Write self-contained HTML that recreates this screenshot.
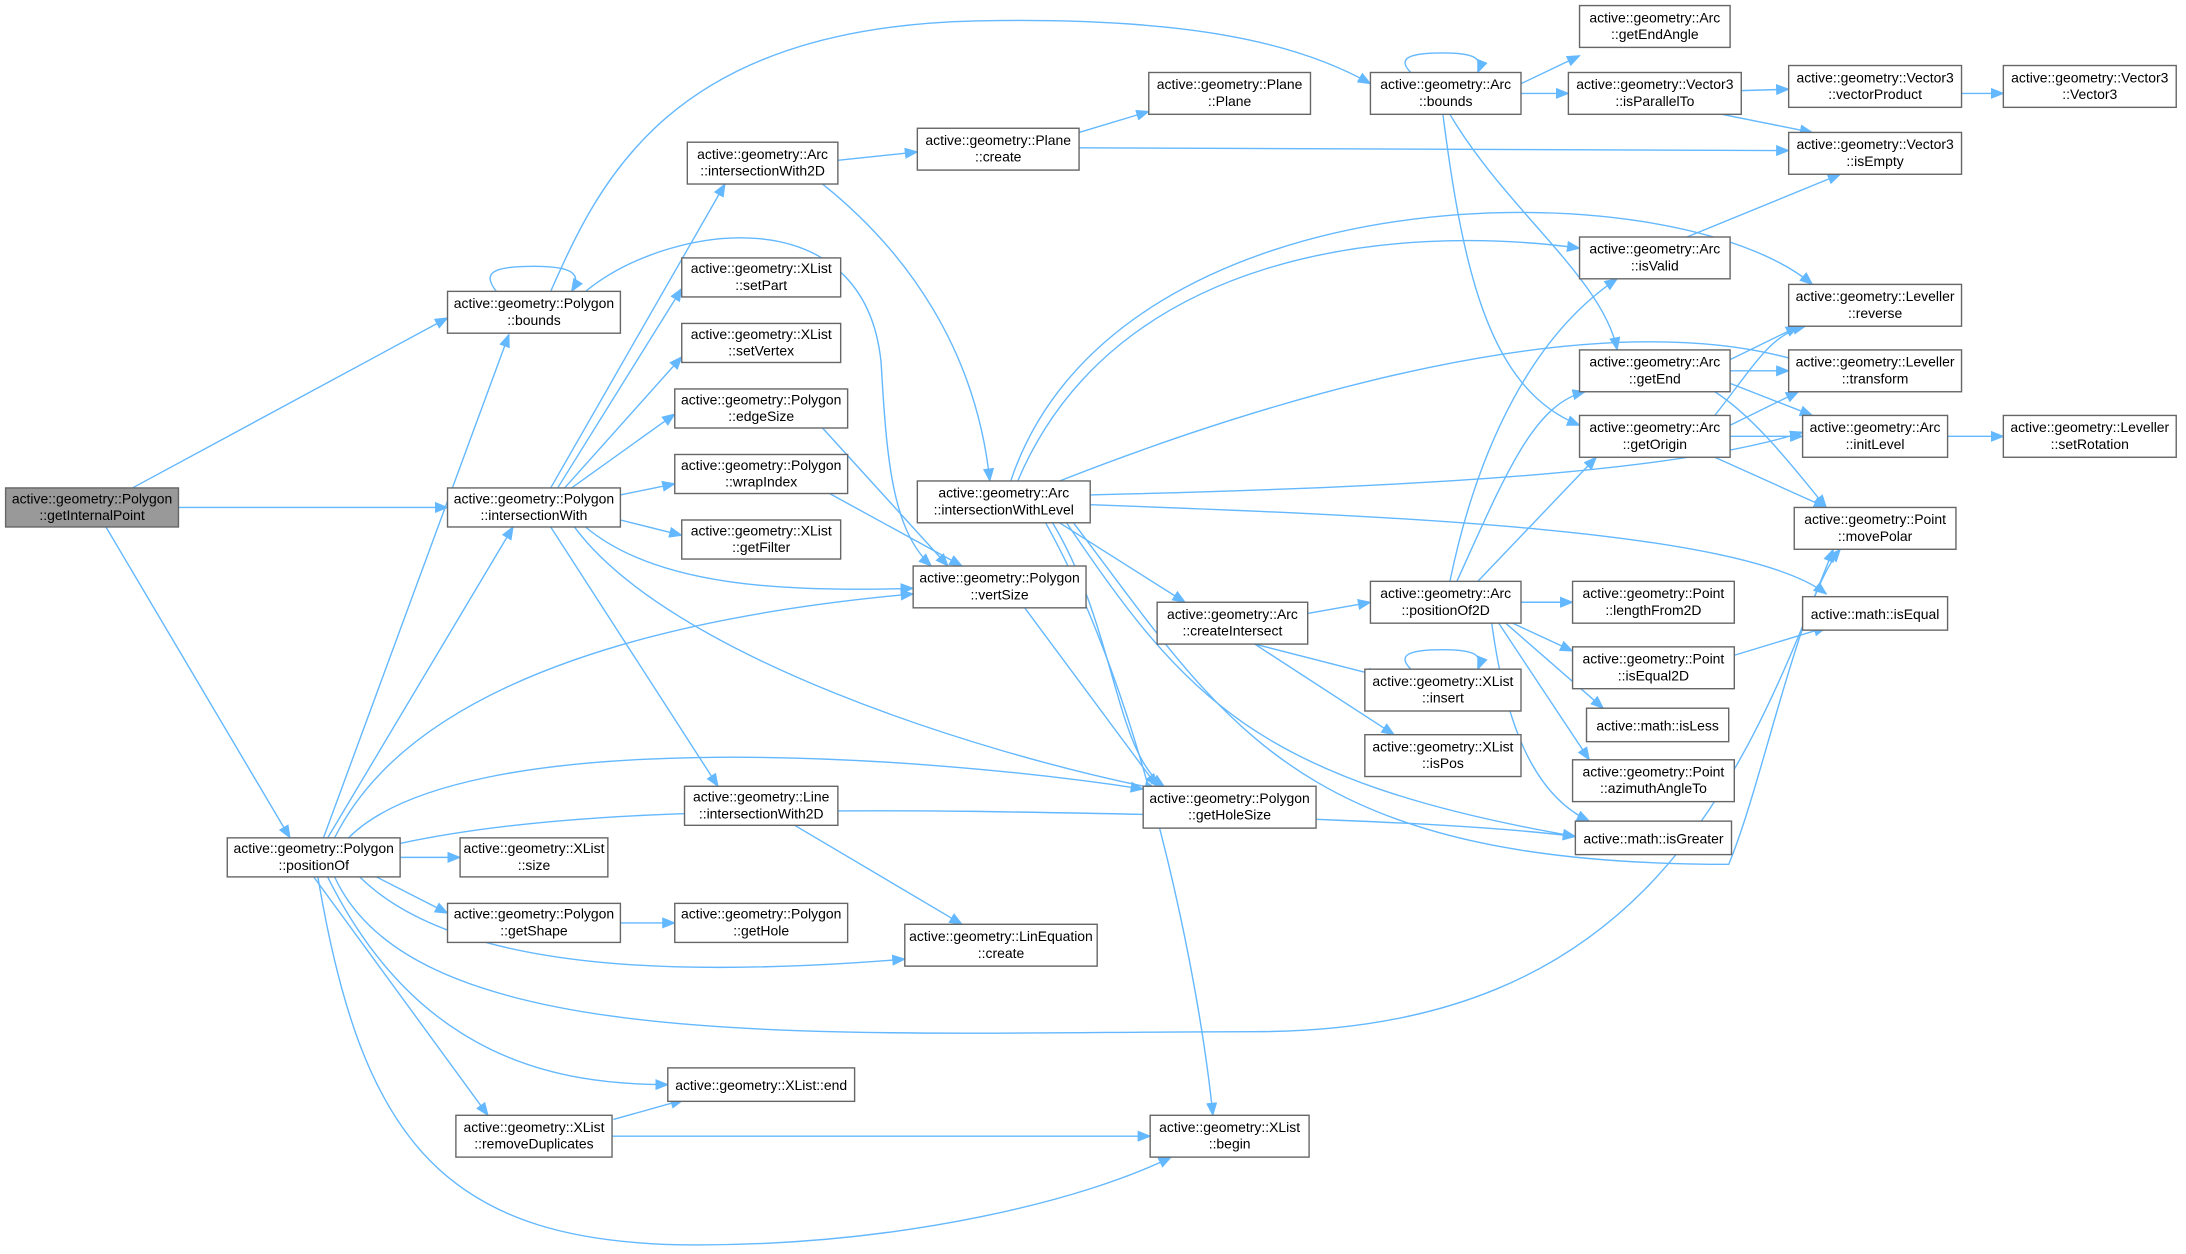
<!DOCTYPE html>
<html><head><meta charset="utf-8"><style>
html,body{margin:0;padding:0;background:#fff;}
svg{display:block;}
text{font-family:"Liberation Sans",Arial,sans-serif;font-size:10px;fill:#000;text-anchor:middle;}
.n rect{fill:#fff;stroke:#666;stroke-width:1;}
.e{fill:none;stroke:#63b8ff;stroke-width:1;marker-end:url(#a);}
</style></head><body>
<svg width="2186" height="1254" viewBox="0 0 1568 899.5" xmlns="http://www.w3.org/2000/svg">
<defs><marker id="a" markerUnits="userSpaceOnUse" markerWidth="10" markerHeight="8" refX="9" refY="4" orient="auto"><path d="M0,0 L10,4 L0,8 z" fill="#63b8ff"/></marker></defs>
<g>
<path class="e" d="M95,350 L321,228"/>
<path class="e" d="M128,364 L321,364"/>
<path class="e" d="M76,378 L208,601"/>
<path class="e" d="M356,209 C346,196 352,191 383,191 C410,191 418,196 410,209"/>
<path class="e" d="M395,209 C430,130 480,20 700,15 C850,12 930,30 983,60"/>
<path class="e" d="M420,209 C480,160 620,140 632,260 C636,330 640,380 668,406"/>
<path class="e" d="M395,350 L520,132"/>
<path class="e" d="M400,350 L489,207"/>
<path class="e" d="M405,350 L489,256"/>
<path class="e" d="M410,350 L484,297"/>
<path class="e" d="M445,355 L484,347"/>
<path class="e" d="M445,373 L489,384"/>
<path class="e" d="M420,378 C470,420 560,425 655,422"/>
<path class="e" d="M412,378 C480,470 700,540 830,566"/>
<path class="e" d="M395,378 L515,564"/>
<path class="e" d="M232,601 L365,240"/>
<path class="e" d="M235,601 L368,378"/>
<path class="e" d="M240,601 C300,480 500,440 655,426"/>
<path class="e" d="M250,601 C330,520 650,540 820,566"/>
<path class="e" d="M287,605 C380,585 500,580 700,582 C900,585 1050,590 1130,600"/>
<path class="e" d="M287,615 L330,615"/>
<path class="e" d="M270,629 L321,655"/>
<path class="e" d="M258,629 C330,700 500,700 649,688"/>
<path class="e" d="M240,629 C300,760 600,740 900,740 C1180,740 1250,560 1315,394"/>
<path class="e" d="M235,629 C300,760 400,778 479,778"/>
<path class="e" d="M225,629 L350,800"/>
<path class="e" d="M228,629 C260,820 320,893 500,893 C650,893 780,860 840,830"/>
<path class="e" d="M445,662 L484,662"/>
<path class="e" d="M440,803 L490,789"/>
<path class="e" d="M439,815 L825,815"/>
<path class="e" d="M570,592 L690,663"/>
<path class="e" d="M601,115 L658,109"/>
<path class="e" d="M590,132 C650,180 700,250 710,345"/>
<path class="e" d="M774,95 L824,80"/>
<path class="e" d="M774,106 L1283,108"/>
<path class="e" d="M590,307 L680,406"/>
<path class="e" d="M595,354 L690,406"/>
<path class="e" d="M735,436 L830,564"/>
<path class="e" d="M730,345 C800,180 1000,160 1133,178"/>
<path class="e" d="M725,345 C800,120 1200,120 1300,204"/>
<path class="e" d="M760,345 C900,290 1150,210 1300,262"/>
<path class="e" d="M782,355 C1000,350 1200,340 1293,310"/>
<path class="e" d="M782,362 C1000,370 1250,380 1310,426"/>
<path class="e" d="M760,375 L850,432"/>
<path class="e" d="M765,375 C850,500 900,560 1130,600"/>
<path class="e" d="M770,375 C880,520 930,620 1240,620 C1265,560 1290,430 1320,394"/>
<path class="e" d="M750,375 C820,500 860,700 870,800"/>
<path class="e" d="M755,375 C800,450 800,540 835,564"/>
<path class="e" d="M938,440 L983,432"/>
<path class="e" d="M900,462 L990,485"/>
<path class="e" d="M900,462 L1000,527"/>
<path class="e" d="M1012,52 C1002,42 1010,38 1035,38 C1058,38 1064,42 1060,52"/>
<path class="e" d="M1091,60 L1133,40"/>
<path class="e" d="M1091,67 L1125,67"/>
<path class="e" d="M1040,82 C1080,150 1150,200 1160,251"/>
<path class="e" d="M1035,82 C1050,200 1070,280 1133,305"/>
<path class="e" d="M1249,65 L1283,64"/>
<path class="e" d="M1235,82 L1300,95"/>
<path class="e" d="M1407,67 L1437,67"/>
<path class="e" d="M1210,170 L1320,125"/>
<path class="e" d="M1241,258 L1290,234"/>
<path class="e" d="M1241,266 L1283,266"/>
<path class="e" d="M1241,275 L1300,298"/>
<path class="e" d="M1230,281 C1260,300 1290,340 1310,364"/>
<path class="e" d="M1230,298 C1260,260 1270,240 1295,234"/>
<path class="e" d="M1241,305 L1290,281"/>
<path class="e" d="M1241,313 L1293,313"/>
<path class="e" d="M1230,328 L1310,364"/>
<path class="e" d="M1397,313 L1437,313"/>
<path class="e" d="M1040,417 C1060,320 1100,240 1160,200"/>
<path class="e" d="M1045,417 C1080,340 1100,290 1137,281"/>
<path class="e" d="M1060,417 L1145,328"/>
<path class="e" d="M1091,432 L1128,432"/>
<path class="e" d="M1085,447 L1128,467"/>
<path class="e" d="M1080,447 L1150,508"/>
<path class="e" d="M1075,447 L1140,545"/>
<path class="e" d="M1070,447 C1080,520 1100,570 1140,589"/>
<path class="e" d="M1012,480 C1002,470 1010,466 1035,466 C1058,466 1064,470 1060,480"/>
<path class="e" d="M1244,470 L1310,450"/>
</g>
<g class="n">
<rect x="4" y="350" width="124" height="28" style="fill:#999"/><text x="66" y="361">active::geometry::Polygon</text><text x="66" y="373">::getInternalPoint</text>
<rect x="321" y="209" width="124" height="30"/><text x="383" y="221">active::geometry::Polygon</text><text x="383" y="233">::bounds</text>
<rect x="321" y="350" width="124" height="28"/><text x="383" y="361">active::geometry::Polygon</text><text x="383" y="373">::intersectionWith</text>
<rect x="163" y="601" width="124" height="28"/><text x="225" y="612">active::geometry::Polygon</text><text x="225" y="624">::positionOf</text>
<rect x="493" y="102" width="108" height="30"/><text x="547" y="114">active::geometry::Arc</text><text x="547" y="126">::intersectionWith2D</text>
<rect x="489" y="185" width="114" height="28"/><text x="546" y="196">active::geometry::XList</text><text x="546" y="208">::setPart</text>
<rect x="489" y="232" width="114" height="28"/><text x="546" y="243">active::geometry::XList</text><text x="546" y="255">::setVertex</text>
<rect x="484" y="279" width="124" height="28"/><text x="546" y="290">active::geometry::Polygon</text><text x="546" y="302">::edgeSize</text>
<rect x="484" y="326" width="124" height="28"/><text x="546" y="337">active::geometry::Polygon</text><text x="546" y="349">::wrapIndex</text>
<rect x="489" y="373" width="114" height="28"/><text x="546" y="384">active::geometry::XList</text><text x="546" y="396">::getFilter</text>
<rect x="491" y="564" width="110" height="28"/><text x="546" y="575">active::geometry::Line</text><text x="546" y="587">::intersectionWith2D</text>
<rect x="330" y="601" width="106" height="28"/><text x="383" y="612">active::geometry::XList</text><text x="383" y="624">::size</text>
<rect x="321" y="648" width="124" height="28"/><text x="383" y="659">active::geometry::Polygon</text><text x="383" y="671">::getShape</text>
<rect x="484" y="648" width="124" height="28"/><text x="546" y="659">active::geometry::Polygon</text><text x="546" y="671">::getHole</text>
<rect x="479" y="766" width="134" height="24"/><text x="546" y="782">active::geometry::XList::end</text>
<rect x="327" y="800" width="112" height="30"/><text x="383" y="812">active::geometry::XList</text><text x="383" y="824">::removeDuplicates</text>
<rect x="658" y="92" width="116" height="30"/><text x="716" y="104">active::geometry::Plane</text><text x="716" y="116">::create</text>
<rect x="824" y="52" width="116" height="30"/><text x="882" y="64">active::geometry::Plane</text><text x="882" y="76">::Plane</text>
<rect x="658" y="345" width="124" height="30"/><text x="720" y="357">active::geometry::Arc</text><text x="720" y="369">::intersectionWithLevel</text>
<rect x="655" y="406" width="124" height="30"/><text x="717" y="418">active::geometry::Polygon</text><text x="717" y="430">::vertSize</text>
<rect x="649" y="663" width="138" height="30"/><text x="718" y="675">active::geometry::LinEquation</text><text x="718" y="687">::create</text>
<rect x="830" y="432" width="108" height="30"/><text x="884" y="444">active::geometry::Arc</text><text x="884" y="456">::createIntersect</text>
<rect x="820" y="564" width="124" height="30"/><text x="882" y="576">active::geometry::Polygon</text><text x="882" y="588">::getHoleSize</text>
<rect x="825" y="800" width="114" height="30"/><text x="882" y="812">active::geometry::XList</text><text x="882" y="824">::begin</text>
<rect x="983" y="52" width="108" height="30"/><text x="1037" y="64">active::geometry::Arc</text><text x="1037" y="76">::bounds</text>
<rect x="1133" y="4" width="108" height="30"/><text x="1187" y="16">active::geometry::Arc</text><text x="1187" y="28">::getEndAngle</text>
<rect x="1125" y="52" width="124" height="30"/><text x="1187" y="64">active::geometry::Vector3</text><text x="1187" y="76">::isParallelTo</text>
<rect x="1283" y="47" width="124" height="30"/><text x="1345" y="59">active::geometry::Vector3</text><text x="1345" y="71">::vectorProduct</text>
<rect x="1437" y="47" width="124" height="30"/><text x="1499" y="59">active::geometry::Vector3</text><text x="1499" y="71">::Vector3</text>
<rect x="1283" y="95" width="124" height="30"/><text x="1345" y="107">active::geometry::Vector3</text><text x="1345" y="119">::isEmpty</text>
<rect x="1133" y="170" width="108" height="30"/><text x="1187" y="182">active::geometry::Arc</text><text x="1187" y="194">::isValid</text>
<rect x="1283" y="204" width="124" height="30"/><text x="1345" y="216">active::geometry::Leveller</text><text x="1345" y="228">::reverse</text>
<rect x="1283" y="251" width="124" height="30"/><text x="1345" y="263">active::geometry::Leveller</text><text x="1345" y="275">::transform</text>
<rect x="1133" y="251" width="108" height="30"/><text x="1187" y="263">active::geometry::Arc</text><text x="1187" y="275">::getEnd</text>
<rect x="1133" y="298" width="108" height="30"/><text x="1187" y="310">active::geometry::Arc</text><text x="1187" y="322">::getOrigin</text>
<rect x="1293" y="298" width="104" height="30"/><text x="1345" y="310">active::geometry::Arc</text><text x="1345" y="322">::initLevel</text>
<rect x="1437" y="298" width="124" height="30"/><text x="1499" y="310">active::geometry::Leveller</text><text x="1499" y="322">::setRotation</text>
<rect x="1287" y="364" width="116" height="30"/><text x="1345" y="376">active::geometry::Point</text><text x="1345" y="388">::movePolar</text>
<rect x="1293" y="428" width="104" height="24"/><text x="1345" y="444">active::math::isEqual</text>
<rect x="983" y="417" width="108" height="30"/><text x="1037" y="429">active::geometry::Arc</text><text x="1037" y="441">::positionOf2D</text>
<rect x="1128" y="417" width="116" height="30"/><text x="1186" y="429">active::geometry::Point</text><text x="1186" y="441">::lengthFrom2D</text>
<rect x="1128" y="464" width="116" height="30"/><text x="1186" y="476">active::geometry::Point</text><text x="1186" y="488">::isEqual2D</text>
<rect x="1138" y="508" width="102" height="24"/><text x="1189" y="524">active::math::isLess</text>
<rect x="1128" y="545" width="116" height="30"/><text x="1186" y="557">active::geometry::Point</text><text x="1186" y="569">::azimuthAngleTo</text>
<rect x="1130" y="589" width="112" height="24"/><text x="1186" y="605">active::math::isGreater</text>
<rect x="979" y="480" width="112" height="30"/><text x="1035" y="492">active::geometry::XList</text><text x="1035" y="504">::insert</text>
<rect x="979" y="527" width="112" height="30"/><text x="1035" y="539">active::geometry::XList</text><text x="1035" y="551">::isPos</text>
</g>
</svg>
</body></html>
